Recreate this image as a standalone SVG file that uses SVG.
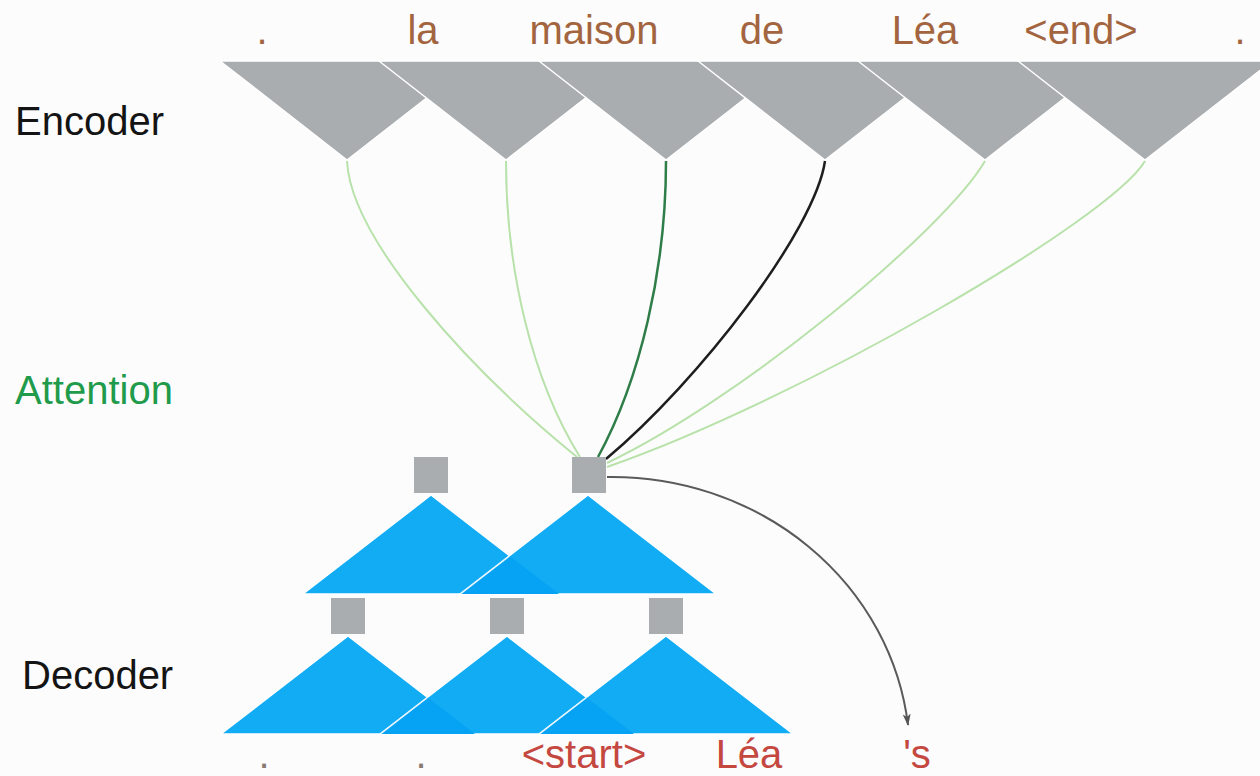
<svg xmlns="http://www.w3.org/2000/svg" width="1260" height="776" viewBox="0 0 1260 776">
  <defs>
    <style>
      .lbl { font-family: "Liberation Sans", Arial, sans-serif; font-size: 40px; }
      .side { fill: #141414; }
      .att { fill: #1f9b4b; }
      .src { fill: #a3653f; text-anchor: middle; }
      .tgt { fill: #c4483f; text-anchor: middle; }
      .dot { fill: #8a7a72; text-anchor: middle; }
      .enc { fill: #a9adaf; stroke: #ffffff; stroke-width: 1.5; stroke-linejoin: round; }
      .dec { fill: #12acf5; stroke: #ffffff; stroke-width: 1.5; stroke-linejoin: round; }
      .ovl { fill: #06a2f3; }
      .sep { stroke: #e8f6fe; stroke-width: 1.5; }
      .cell { fill: #a9adaf; }
      .w-low { fill: none; stroke: #b9e2ab; stroke-width: 2; }
      .w-mid { fill: none; stroke: #2f7d48; stroke-width: 2.5; }
      .w-high { fill: none; stroke: #1e1e1e; stroke-width: 2.5; }
      .out { fill: none; stroke: #5a5a5a; stroke-width: 2; }
    </style>
    <marker id="arrow" viewBox="0 0 12 10" refX="11" refY="5" markerWidth="12" markerHeight="10" markerUnits="userSpaceOnUse" orient="auto">
      <path d="M0,1 L12,5 L0,9 L3,5 Z" fill="#555555"/>
    </marker>
  </defs>

  <rect width="1260" height="776" fill="#fcfcfd"/>

  <!-- row labels -->
  <text class="lbl side" x="15" y="135">Encoder</text>
  <text class="lbl att" x="15" y="404">Attention</text>
  <text class="lbl side" x="22" y="689">Decoder</text>

  <!-- source tokens -->
  <g id="source-tokens">
    <text class="lbl src" x="262" y="44">.</text>
    <text class="lbl src" x="423" y="44">la</text>
    <text class="lbl src" x="594" y="44">maison</text>
    <text class="lbl src" x="762" y="44">de</text>
    <text class="lbl src" x="925" y="44">Léa</text>
    <text class="lbl src" x="1081" y="44">&lt;end&gt;</text>
    <text class="lbl src" x="1240" y="44">.</text>
  </g>

  <!-- encoder cells (inverted triangles, drawn left to right) -->
  <g id="encoder">
    <polygon id="enc-0" class="enc" points="220,61 474,61 347,160"/>
    <polygon id="enc-1" class="enc" points="379,61 633,61 506,160"/>
    <polygon id="enc-2" class="enc" points="539,61 793,61 666,160"/>
    <polygon id="enc-3" class="enc" points="698,61 952,61 825,160"/>
    <polygon id="enc-4" class="enc" points="858,61 1112,61 985,160"/>
    <polygon id="enc-5" class="enc" points="1018,61 1272,61 1145,160"/>
  </g>

  <!-- attention weights and output connector -->
  <g id="connectors">
    <path class="w-low" d="M347,161 C351,240 470,370 577,457"/>
    <path class="w-low" d="M506,161 C506,270 532,380 580,457"/>
    <path class="w-low" d="M985,161 C945,230 740,400 607,463"/>
    <path class="w-low" d="M1145,161 C1110,220 800,400 607,467"/>
    <path class="w-mid" d="M666,161 C666,270 640,380 598,457"/>
    <path class="w-high" d="M825,161 C815,230 700,380 606,459"/>
    <path class="out" d="M607,477 A298,280 0 0 1 908,725" marker-end="url(#arrow)"/>
  </g>

  <!-- upper decoder layer -->
  <g id="decoder-upper">
    <polygon id="dec-u0" class="dec" points="431,495 303,594 559,594"/>
    <polygon id="dec-u1" class="dec" points="588,495 460,594 716,594"/>
    <polygon class="ovl" points="509.5,556 559,594 460.5,594"/>
    <line class="sep" x1="461" y1="593.5" x2="509.5" y2="556"/>
    <rect id="cell-u0" class="cell" x="414" y="457" width="34" height="36"/>
    <rect id="cell-u1" class="cell" x="572" y="457" width="34" height="36"/>
  </g>

  <!-- lower decoder layer -->
  <g id="decoder-lower">
    <polygon id="dec-l0" class="dec" points="348,636 221,734 475,734"/>
    <polygon id="dec-l1" class="dec" points="507,636 380,734 634,734"/>
    <polygon id="dec-l2" class="dec" points="666,636 539,734 793,734"/>
    <polygon class="ovl" points="427.5,697.5 475,734 380.5,734"/>
    <polygon class="ovl" points="586.5,697.5 634,734 539.5,734"/>
    <line class="sep" x1="381" y1="733.5" x2="427.5" y2="697.5"/>
    <line class="sep" x1="540" y1="733.5" x2="586.5" y2="697.5"/>
    <rect id="cell-l0" class="cell" x="331" y="598" width="34" height="36"/>
    <rect id="cell-l1" class="cell" x="490" y="598" width="34" height="36"/>
    <rect id="cell-l2" class="cell" x="649" y="598" width="34" height="36"/>
  </g>

  <!-- target tokens -->
  <g id="target-tokens">
    <text class="lbl dot" x="264" y="768">.</text>
    <text class="lbl dot" x="421" y="768">.</text>
    <text class="lbl tgt" x="584" y="768">&lt;start&gt;</text>
    <text class="lbl tgt" x="749" y="768">Léa</text>
    <text class="lbl tgt" x="917" y="768">'s</text>
  </g>
</svg>
